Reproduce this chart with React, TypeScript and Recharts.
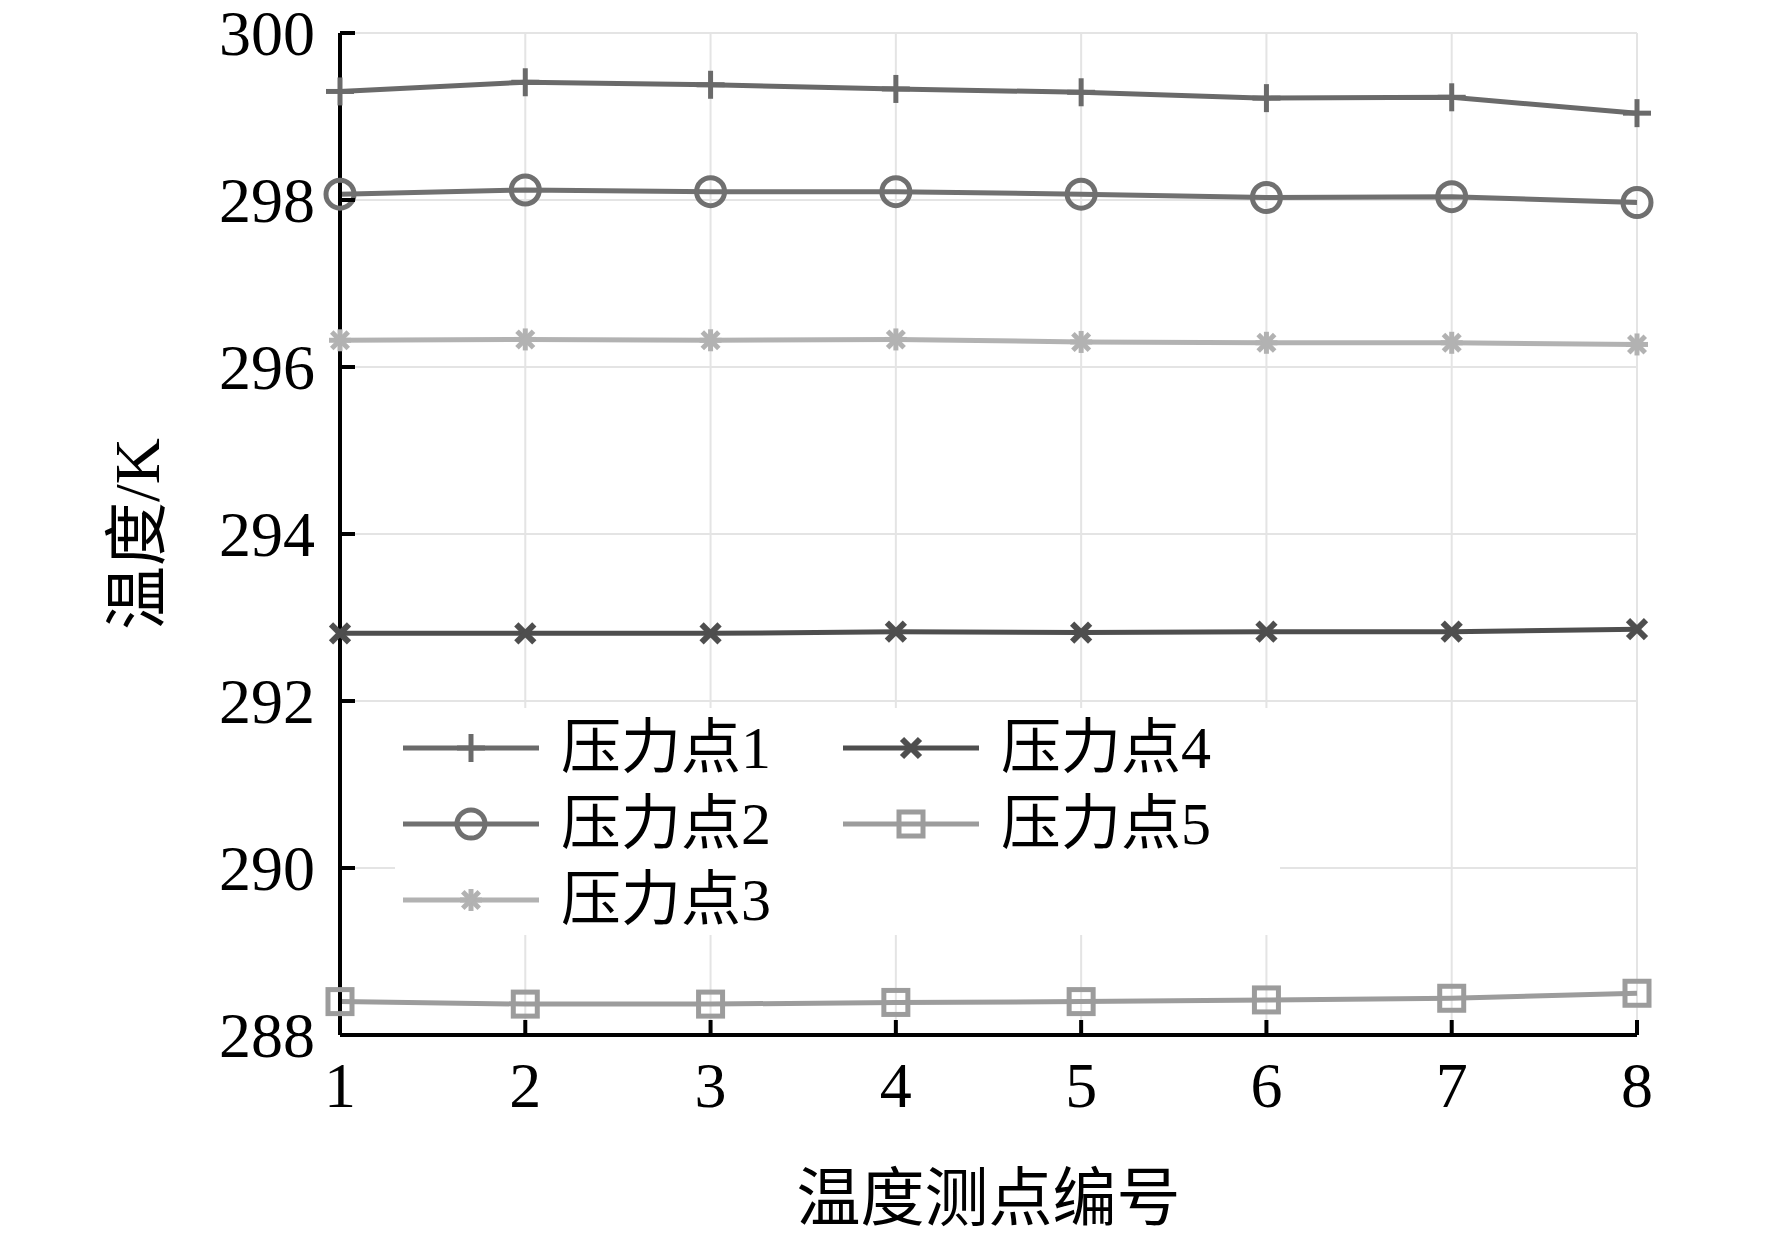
import React from 'react';
import {
  LineChart,
  Line,
  XAxis,
  YAxis,
  CartesianGrid,
  Legend,
} from 'recharts';

// temperature measuring points
const POINTS = [1, 2, 3, 4, 5, 6, 7, 8];

// temperatures (K) at each pressure point
const P1 = [299.3, 299.41, 299.38, 299.33, 299.29, 299.22, 299.23, 299.04];
const P2 = [298.07, 298.12, 298.1, 298.1, 298.07, 298.03, 298.04, 297.97];
const P3 = [296.32, 296.33, 296.32, 296.33, 296.3, 296.29, 296.29, 296.27];
const P4 = [292.81, 292.81, 292.81, 292.83, 292.82, 292.83, 292.83, 292.86];
const P5 = [288.4, 288.37, 288.37, 288.39, 288.4, 288.42, 288.44, 288.5];

const Y_TICKS = [288, 290, 292, 294, 296, 298, 300];

const SERIES = [
  { key: 'p1', name: '压力点1', values: P1, color: '#6a6a6a', marker: 'plus' },
  { key: 'p2', name: '压力点2', values: P2, color: '#707070', marker: 'circle' },
  { key: 'p3', name: '压力点3', values: P3, color: '#b2b2b2', marker: 'star' },
  { key: 'p4', name: '压力点4', values: P4, color: '#4e4e4e', marker: 'cross' },
  { key: 'p5', name: '压力点5', values: P5, color: '#9c9c9c', marker: 'square' },
];

const data = POINTS.map((x, i) => {
  const row: Record<string, number> = { x };
  SERIES.forEach((s) => {
    row[s.key] = s.values[i];
  });
  return row;
});

const FONT = '"Liberation Serif", "Noto Sans CJK SC", serif';
const TICK_LEN = 15;

function Marker({ cx, cy, type, color }: { cx: number; cy: number; type: string; color: string }) {
  const sw = 5;
  if (type === 'plus') {
    return (
      <g stroke={color} strokeWidth={sw}>
        <line x1={cx - 14} y1={cy} x2={cx + 14} y2={cy} />
        <line x1={cx} y1={cy - 14} x2={cx} y2={cy + 14} />
      </g>
    );
  }
  if (type === 'circle') {
    return <circle cx={cx} cy={cy} r={14} fill="none" stroke={color} strokeWidth={sw} />;
  }
  if (type === 'star') {
    const r = 11;
    const d = r * 0.75;
    return (
      <g stroke={color} strokeWidth={sw}>
        <line x1={cx - r} y1={cy} x2={cx + r} y2={cy} />
        <line x1={cx} y1={cy - r} x2={cx} y2={cy + r} />
        <line x1={cx - d} y1={cy - d} x2={cx + d} y2={cy + d} />
        <line x1={cx - d} y1={cy + d} x2={cx + d} y2={cy - d} />
      </g>
    );
  }
  if (type === 'cross') {
    const r = 9;
    return (
      <g stroke={color} strokeWidth={sw + 1}>
        <line x1={cx - r} y1={cy - r} x2={cx + r} y2={cy + r} />
        <line x1={cx - r} y1={cy + r} x2={cx + r} y2={cy - r} />
      </g>
    );
  }
  return <rect x={cx - 12} y={cy - 12} width={24} height={24} fill="none" stroke={color} strokeWidth={sw} />;
}

const renderDot = (type: string, color: string) => (props: any) => {
  const { cx, cy, index } = props;
  return <Marker key={`${type}-${index}`} cx={cx} cy={cy} type={type} color={color} />;
};

const BottomTick = (props: any) => {
  const { x, y, payload } = props;
  return (
    <g>
      <line x1={x} y1={y} x2={x} y2={y - TICK_LEN} stroke="#000" strokeWidth={4} />
      <text x={x} y={y + 72} textAnchor="middle" fontSize={64} fontFamily={FONT} fill="#000">
        {payload.value}
      </text>
    </g>
  );
};

const TopTick = (props: any) => {
  const { x, y } = props;
  return <line x1={x} y1={y} x2={x} y2={y + TICK_LEN} stroke="#000" strokeWidth={4} />;
};

const LeftTick = (props: any) => {
  const { x, y, payload } = props;
  return (
    <g>
      <line x1={x} y1={y} x2={x + TICK_LEN} y2={y} stroke="#000" strokeWidth={4} />
      <text x={x - 25} y={y + 22} textAnchor="end" fontSize={64} fontFamily={FONT} fill="#000">
        {payload.value}
      </text>
    </g>
  );
};

const RightTick = (props: any) => {
  const { x, y } = props;
  return <line x1={x} y1={y} x2={x - TICK_LEN} y2={y} stroke="#000" strokeWidth={4} />;
};

const YLabel = (props: any) => {
  const { viewBox } = props;
  const cx = viewBox.x + 137;
  const cy = viewBox.y + viewBox.height / 2;
  return (
    <text
      x={cx}
      y={cy}
      textAnchor="middle"
      dominantBaseline="central"
      transform={`rotate(-90, ${cx}, ${cy})`}
      fontSize={64}
      fontFamily={FONT}
      fill="#000"
    >
      温度/K
    </text>
  );
};

const XLabel = (props: any) => {
  const { viewBox } = props;
  const cx = viewBox.x + viewBox.width / 2;
  return (
    <text
      x={cx}
      y={viewBox.y + 163}
      textAnchor="middle"
      dominantBaseline="central"
      fontSize={64}
      fontFamily={FONT}
      fill="#000"
    >
      温度测点编号
    </text>
  );
};

const LegendContent = (props: any) => {
  const { payload } = props;
  return (
    <div
      style={{
        background: '#fff',
        width: 885,
        height: 227,
        boxSizing: 'border-box',
        padding: '2px 0 0 8px',
        display: 'grid',
        gridTemplateRows: 'repeat(3, 76px)',
        gridTemplateColumns: '440px 437px',
        gridAutoFlow: 'column',
      }}
    >
      {payload.map((entry: any) => {
        const s = SERIES.find((t) => t.key === entry.dataKey) || SERIES[0];
        return (
          <div key={s.key} style={{ display: 'flex', alignItems: 'center' }}>
            <svg width={136} height={40} style={{ overflow: 'visible' }}>
              <line x1={0} y1={20} x2={136} y2={20} stroke={s.color} strokeWidth={5} />
              <Marker cx={68} cy={20} type={s.marker} color={s.color} />
            </svg>
            <span
              style={{
                marginLeft: 22,
                fontFamily: FONT,
                fontSize: 60,
                lineHeight: '76px',
                color: '#000',
                whiteSpace: 'nowrap',
              }}
            >
              {entry.value}
            </span>
          </div>
        );
      })}
    </div>
  );
};

export default function App() {
  return (
    <div style={{ position: 'absolute', left: 0, top: 0, width: 1772, height: 1237, background: '#fff' }}>
      <LineChart
        width={1772}
        height={1237}
        data={data}
        margin={{ top: 33, right: 135, bottom: 0, left: 0 }}
      >
        <CartesianGrid stroke="#e4e4e4" strokeWidth={2} />
        <XAxis
          dataKey="x"
          type="number"
          domain={[1, 8]}
          ticks={POINTS}
          height={202}
          tickSize={0}
          tickMargin={0}
          axisLine={{ stroke: '#000', strokeWidth: 4 }}
          tick={<BottomTick />}
          label={<XLabel />}
        />
        <XAxis
          xAxisId="top"
          orientation="top"
          dataKey="x"
          type="number"
          domain={[1, 8]}
          ticks={POINTS}
          height={0}
          tickSize={0}
          tickMargin={0}
          axisLine={{ stroke: '#000', strokeWidth: 4 }}
          tick={<TopTick />}
        />
        <YAxis
          type="number"
          domain={[288, 300]}
          ticks={Y_TICKS}
          width={340}
          tickSize={0}
          tickMargin={0}
          axisLine={{ stroke: '#000', strokeWidth: 4 }}
          tick={<LeftTick />}
          label={<YLabel />}
        />
        <YAxis
          yAxisId="right"
          orientation="right"
          type="number"
          domain={[288, 300]}
          ticks={Y_TICKS}
          width={0}
          tickSize={0}
          tickMargin={0}
          axisLine={{ stroke: '#000', strokeWidth: 4 }}
          tick={<RightTick />}
        />
        <Legend
          layout="vertical"
          align="center"
          verticalAlign="middle"
          wrapperStyle={{ left: 395, top: 708, width: 885, height: 227 }}
          content={<LegendContent />}
        />
        {SERIES.map((s) => (
          <Line
            key={s.key}
            dataKey={s.key}
            name={s.name}
            stroke={s.color}
            strokeWidth={5}
            type="linear"
            dot={renderDot(s.marker, s.color)}
            activeDot={false}
            isAnimationActive={false}
          />
        ))}
      </LineChart>
    </div>
  );
}
